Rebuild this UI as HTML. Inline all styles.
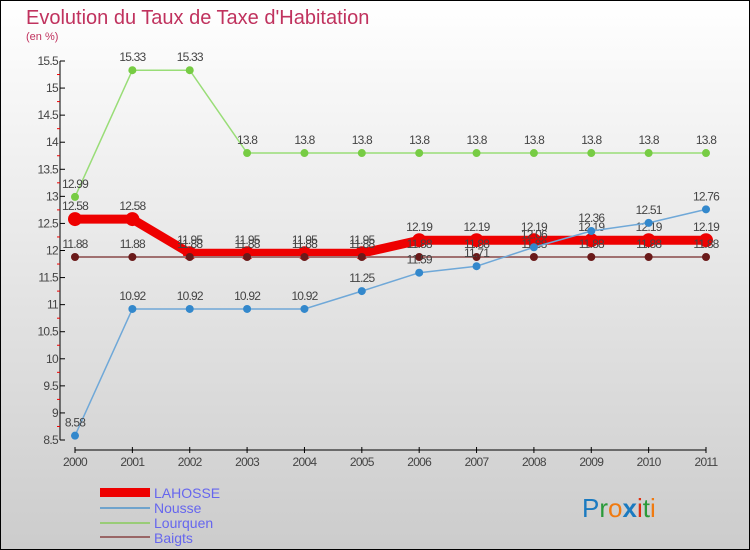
<!DOCTYPE html>
<html><head><meta charset="utf-8"><style>
body{margin:0;width:750px;height:550px;overflow:hidden}
svg{display:block;font-family:"Liberation Sans",sans-serif}
</style></head><body>
<svg width="750" height="550">
<defs><linearGradient id="bg" x1="0" y1="0" x2="0" y2="1"><stop offset="0" stop-color="#ffffff"/><stop offset="1" stop-color="#cccccc"/></linearGradient></defs>
<rect x="0.5" y="0.5" width="749" height="549" fill="url(#bg)" stroke="#000"/>
<text x="26" y="24" font-size="20" fill="#c0325e">Evolution du Taux de Taxe d'Habitation</text>
<text x="26" y="40" font-size="11" fill="#c0325e">(en %)</text>
<g id="axes"></g><g id="plot"></g>
<g>
<rect x="100" y="488" width="50" height="9" fill="#e00"/>
<text x="154" y="498" font-size="14" fill="#6666ee">LAHOSSE</text>
<rect x="100" y="507" width="50" height="2" fill="#6fa3cc"/>
<text x="154" y="513" font-size="14" fill="#6666ee">Nousse</text>
<rect x="100" y="522" width="50" height="2" fill="#99cc77"/>
<text x="154" y="528" font-size="14" fill="#6666ee">Lourquen</text>
<rect x="100" y="536" width="50" height="2" fill="#996666"/>
<text x="154" y="543" font-size="14" fill="#6666ee">Baigts</text>
</g>
<text x="582" y="517" font-size="26"><tspan fill="#1a7ac0">P</tspan><tspan fill="#2a9a3a">r</tspan><tspan fill="#f07a10">o</tspan><tspan fill="#1a7ac0" font-weight="bold">x</tspan><tspan fill="#e03010">i</tspan><tspan fill="#2a9a3a">t</tspan><tspan fill="#f07a10">i</tspan></text>
</svg>
<script>
const years=[2000,2001,2002,2003,2004,2005,2006,2007,2008,2009,2010,2011];
const yTicks=[8.5,9,9.5,10,10.5,11,11.5,12,12.5,13,13.5,14,14.5,15,15.5];
const lahosse=[12.58,12.58,11.95,11.95,11.95,11.95,12.19,12.19,12.19,12.19,12.19,12.19];
const nousse=[8.58,10.92,10.92,10.92,10.92,11.25,11.59,11.71,12.06,12.36,12.51,12.76];
const lourquen=[12.99,15.33,15.33,13.8,13.8,13.8,13.8,13.8,13.8,13.8,13.8,13.8];
const baigts=[11.88,11.88,11.88,11.88,11.88,11.88,11.88,11.88,11.88,11.88,11.88,11.88];
const NS="http://www.w3.org/2000/svg";
const xS=i=>75+i*(706-75)/(years.length-1);
const yS=v=>440-(v-8.5)*(440-61)/7;
function mk(t,a,p){const e=document.createElementNS(NS,t);for(const k in a)e.setAttribute(k,a[k]);p.appendChild(e);return e;}
const ax=document.getElementById('axes'),pl=document.getElementById('plot');
let l=mk('line',{x1:60,y1:yS(15.5),x2:60,y2:yS(8.5),stroke:'#000'},ax);


yTicks.forEach((v,i)=>{
 mk('line',{x1:60,x2:65,y1:yS(v),y2:yS(v),stroke:'#000'},ax);
 if(i<yTicks.length-1)mk('line',{x1:57,x2:60,y1:yS(v+0.25),y2:yS(v+0.25),stroke:'#e00'},ax);
 const t=mk('text',{x:58,y:yS(v)+4,'font-size':12,fill:'#444','text-anchor':'end','letter-spacing':'-0.7'},ax);
 t.textContent=String(v);
 
 
});
l=mk('line',{x1:75,y1:450,x2:706,y2:450,stroke:'#000'},ax);


years.forEach((y,i)=>{
 mk('line',{x1:xS(i),x2:xS(i),y1:447,y2:453,stroke:'#000'},ax);
 const t=mk('text',{x:xS(i),y:466,'font-size':12,fill:'#444','text-anchor':'middle','letter-spacing':'-0.7'},ax);
 t.textContent=y;
 
 
});
function series(name,vals,col,w,r,dot){
 const g=mk('g',{},pl);
 
 
 const p=mk('polyline',{points:vals.map((v,i)=>xS(i)+','+yS(v)).join(' '),fill:'none',stroke:col,'stroke-width':w},g);
 
 
 vals.forEach((v,i)=>{
  const c=mk('circle',{cx:xS(i),cy:yS(v),r:r,fill:dot},g);
  
  
  const t=mk('text',{x:xS(i),y:yS(v)-9,'font-size':12,fill:'#444','text-anchor':'middle','letter-spacing':'-0.8'},g);
  t.textContent=String(v);
  
  
 });
}
series('lahosse',lahosse,'#ee0000',9,7,'#ee0000');
series('baigts',baigts,'#a07070',2,4,'#6a1a1a');
series('lourquen',lourquen,'#99dd77',1.5,4,'#77cc44');
series('nousse',nousse,'#6fa8d8',1.5,4,'#3388cc');
</script>
</body></html>
